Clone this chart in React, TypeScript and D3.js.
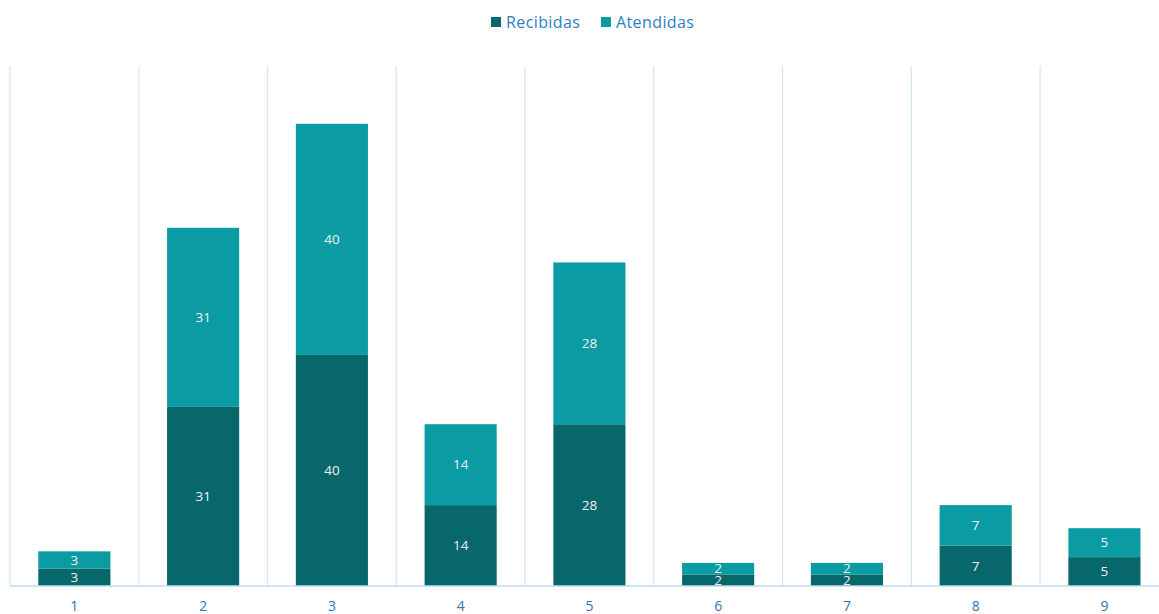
import React from "react";
import * as d3 from "d3";

const categories = ["1", "2", "3", "4", "5", "6", "7", "8", "9"];
const recibidas = [3, 31, 40, 14, 28, 2, 2, 7, 5];
const atendidas = [3, 31, 40, 14, 28, 2, 2, 7, 5];
const seriesNames = ["Recibidas", "Atendidas"];
const seriesColors = ["#07676B", "#0A9BA3"];

const W = 1159;
const H = 614;
const FONT = "'Open Sans', 'Noto Sans', sans-serif";

export default function App() {
  const left = 10;
  const right = 1168.8;
  const top = 66;
  const bottom = 586;

  const x = d3.scaleBand<string>().domain(categories).range([left, right]).paddingInner(0.44).paddingOuter(0.22);
  const y = d3.scaleLinear().domain([0, 90]).range([bottom, top]);
  const step = x.step();

  const rows = categories.map((c, i) => ({ c, Recibidas: recibidas[i], Atendidas: atendidas[i] }));
  const stack = d3.stack<any>().keys(seriesNames)(rows);

  const gridXs = categories.map((c) => (x(c) as number) - step * 0.22);

  return (
    <svg width={W} height={H} style={{ position: "absolute", left: 0, top: 0, background: "#fff" }} fontFamily={FONT}>
      {gridXs.map((gx, i) => (
        <line key={i} x1={gx} x2={gx} y1={top} y2={bottom} stroke="#D6E8F5" strokeWidth={1.3} />
      ))}
      {stack.map((s, si) =>
        s.map((d, i) => {
          const c = categories[i];
          const bx = x(c) as number;
          const y0 = y(d[0]);
          const y1 = y(d[1]);
          const v = d[1] - d[0];
          return (
            <g key={`${si}-${i}`}>
              <rect x={bx} y={y1} width={x.bandwidth()} height={y0 - y1} fill={seriesColors[si]} />
              <text
                x={bx + x.bandwidth() / 2}
                y={(y0 + y1) / 2}
                dy="0.35em"
                textAnchor="middle"
                fontSize={13.5}
                fill="#F2F2F2"
              >
                {v}
              </text>
            </g>
          );
        })
      )}
      <line x1={left} x2={W} y1={bottom} y2={bottom} stroke="#BCDDF2" strokeWidth={1.5} />
      {categories.map((c) => (
        <text
          key={c}
          x={(x(c) as number) + x.bandwidth() / 2}
          y={606}
          dy="0.35em"
          textAnchor="middle"
          fontSize={14}
          fill="#2E75B6"
        >
          {c}
        </text>
      ))}
      <g>
        {seriesNames.map((n, i) => {
          const lx = i === 0 ? 491 : 601;
          return (
            <g key={n}>
              <rect x={lx} y={17} width={10} height={10} fill={seriesColors[i]} />
              <text x={lx + 15} y={22} dy="0.35em" fontSize={16} letterSpacing={0.4} fill="#2E7EC0">
                {n}
              </text>
            </g>
          );
        })}
      </g>
    </svg>
  );
}
